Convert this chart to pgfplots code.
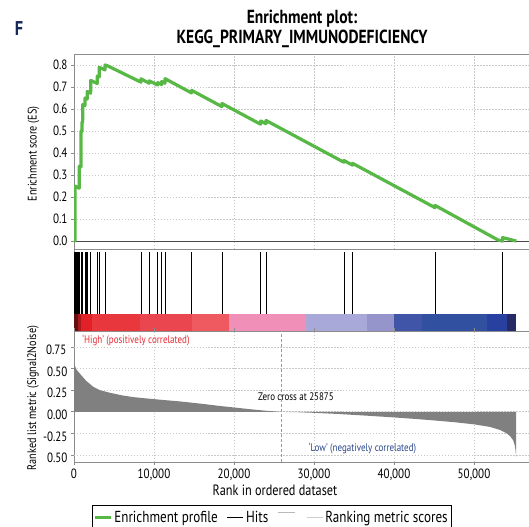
\documentclass[border=0pt]{standalone}
\usepackage{fontspec}
\setmainfont{PT Sans}[FakeStretch=0.82]
\usepackage{pgfplots}
\pgfplotsset{compat=1.18}
\definecolor{esgreen}{RGB}{88,184,70}
\definecolor{fnavy}{RGB}{20,40,90}
\definecolor{framegray}{RGB}{140,140,140}
\definecolor{gridgray}{RGB}{200,200,200}
\definecolor{metricgray}{RGB}{128,128,128}
\definecolor{hired}{RGB}{232,40,48}
\definecolor{lowblue}{RGB}{40,70,140}
\definecolor{cA}{RGB}{100,15,15}
\definecolor{cB}{RGB}{170,25,30}
\definecolor{cC}{RGB}{226,32,40}
\definecolor{cD}{RGB}{232,56,62}
\definecolor{cE}{RGB}{234,70,80}
\definecolor{cF}{RGB}{238,90,95}
\definecolor{cG}{RGB}{240,144,184}
\definecolor{cH}{RGB}{169,169,217}
\definecolor{cI}{RGB}{149,149,204}
\definecolor{cJ}{RGB}{64,85,168}
\definecolor{cK}{RGB}{50,80,160}
\definecolor{cL}{RGB}{40,64,160}
\definecolor{cM}{RGB}{38,42,102}
\pgfplotsset{
  panel/.style={
    scale only axis, width=455bp, xmin=0, xmax=56875,
    scaled x ticks=false, scaled y ticks=false,
    axis line style={framegray, line width=0.9pt},
    grid style={gridgray, dash pattern=on 1.5pt off 1.5pt, line width=0.6pt},
    tick style={framegray, line width=0.6pt},
    tick align=outside,
    ticklabel style={font=\fontsize{13.5}{14}\selectfont},
    /pgf/number format/assume math mode=true,
  }
}
\begin{document}
\begin{tikzpicture}
\useasboundingbox (0,0) rectangle (529bp,-527bp);
% titles
\node[font=\bfseries\fontsize{20}{22}\selectfont, text=fnavy] at (19bp,-29bp) {F};
\node[font=\bfseries\fontsize{19}{20}\selectfont] at (302bp,-19bp) {Enrichment plot:};
\node[font=\bfseries\fontsize{19}{20}\selectfont] at (302bp,-38.5bp) {KEGG\_PRIMARY\_IMMUNODEFICIENCY};
% top panel
\begin{axis}[panel, at={(74bp,-54bp)}, anchor=north west, height=195bp,
  ymin=-0.036, ymax=0.85,
  ytick={0,0.1,0.2,0.3,0.4,0.5,0.6,0.7,0.8},
  yticklabels={0.0,0.1,0.2,0.3,0.4,0.5,0.6,0.7,0.8},
  xtick={10000,20000,30000,40000,50000}, xticklabels={},
  x tick style={draw=none}, major tick length=3bp,
  xmajorgrids, ymajorgrids]
\addplot[gray!60!black, line width=1.1pt] coordinates {(0,0)(56875,0)};
\addplot[esgreen, line width=3.2bp, line join=round] coordinates {
(0,0)(120,0)(125,0.25)(650,0.24)(660,0.34)(865,0.337)(875,0.50)(990,0.498)(1000,0.54)(1080,0.538)(1090,0.62)(1365,0.615)(1375,0.65)(1650,0.645)(1660,0.68)(2080,0.672)(2090,0.73)(2900,0.716)(2910,0.75)(3150,0.745)(3160,0.79)(3870,0.777)(3880,0.80)(4100,0.798)
(8370,0.722)(8380,0.737)(9410,0.717)(9420,0.728)(10450,0.709)(10460,0.72)(10950,0.711)(10960,0.725)(11370,0.717)(11380,0.738)(14690,0.673)(14700,0.685)(18490,0.611)(18500,0.625)(23320,0.531)(23330,0.546)(23990,0.533)(24000,0.548)(33740,0.358)(33750,0.366)(34820,0.345)(34830,0.353)(45120,0.152)(45130,0.162)(53000,0.005)(53570,0.0)(53580,0.016)(55300,0.0)};
\end{axis}
% hits panel
\begin{axis}[panel, at={(74bp,-249bp)}, anchor=north west, height=82bp,
  ymin=0, ymax=82, xtick=\empty, ytick=\empty]
\addplot[ycomb, black, line width=0.9pt, mark=none] coordinates {
(40,79)(90,79)(125,79)(250,79)(420,79)(560,79)(660,79)(875,79)(1000,79)(1090,79)(1375,79)(1500,79)(1660,79)(2090,79)(2910,79)(3160,79)(3880,79)
(8375,79)(9420,79)(10460,79)(10960,79)(11375,79)(14700,79)(18500,79)(23330,79)(24000,79)(33750,79)(34830,79)(45125,79)(53580,79)};
\addplot[fill=cA, draw=none] coordinates {(0,0)(450,0)(450,17)(0,17)} -- cycle;
\addplot[fill=cB, draw=none] coordinates {(450,0)(900,0)(900,17)(450,17)} -- cycle;
\addplot[fill=cC, draw=none] coordinates {(900,0)(2200,0)(2200,17)(900,17)} -- cycle;
\addplot[fill=cD, draw=none] coordinates {(2200,0)(8250,0)(8250,17)(2200,17)} -- cycle;
\addplot[fill=cE, draw=none] coordinates {(8250,0)(14700,0)(14700,17)(8250,17)} -- cycle;
\addplot[fill=cF, draw=none] coordinates {(14700,0)(19400,0)(19400,17)(14700,17)} -- cycle;
\addplot[fill=cG, draw=none] coordinates {(19400,0)(29000,0)(29000,17)(19400,17)} -- cycle;
\addplot[fill=cH, draw=none] coordinates {(29000,0)(36600,0)(36600,17)(29000,17)} -- cycle;
\addplot[fill=cI, draw=none] coordinates {(36600,0)(40000,0)(40000,17)(36600,17)} -- cycle;
\addplot[fill=cJ, draw=none] coordinates {(40000,0)(43500,0)(43500,17)(40000,17)} -- cycle;
\addplot[fill=cK, draw=none] coordinates {(43500,0)(51600,0)(51600,17)(43500,17)} -- cycle;
\addplot[fill=cL, draw=none] coordinates {(51600,0)(54100,0)(54100,17)(51600,17)} -- cycle;
\addplot[fill=cM, draw=none] coordinates {(54100,0)(55250,0)(55250,17)(54100,17)} -- cycle;
\end{axis}
% bottom panel
\begin{axis}[panel, at={(74bp,-331bp)}, anchor=north west, height=131bp,
  ymin=-0.581, ymax=0.935,
  ytick={-0.25,0,0.25,0.5},
  yticklabel style={yshift=-3bp, /pgf/number format/fixed, /pgf/number format/fixed zerofill, /pgf/number format/precision=2},
  extra y ticks={-0.5,0.75}, extra y tick labels={0.50,{}},
  extra y tick style={grid=major},
  xtick={0,10000,20000,30000,40000,50000},
  xticklabels={0,{10,000},{20,000},{30,000},{40,000},{50,000}},
  major tick length=3bp,
  xmajorgrids, ymajorgrids,
  legend columns=-1,
  legend style={at={(0.0396,-0.328)}, anchor=north west, draw=black, line width=0.8pt,
    font=\fontsize{16}{18}\selectfont, inner xsep=1.5pt, inner ysep=4pt,
    /tikz/every even column/.append style={column sep=7bp}},
  legend image code/.code={\draw[#1] (0bp,0bp) -- (16bp,0bp);}]
\addlegendimage{esgreen, line width=2.5pt}
\addlegendentry{Enrichment profile\hspace{5bp}}
\addlegendimage{black, line width=1.2pt}
\addlegendentry{Hits\hspace{3bp}}
\addlegendimage{legend image code/.code={\draw[gray!55, line width=0.9pt] (0bp,5bp) -- (17bp,5bp); \draw[gray!40, line width=1.1pt] (29bp,0bp) -- (45bp,0bp);}}
\addlegendentry{Ranking metric scores\hspace{7bp}}
\addplot[fill=metricgray, draw=none, forget plot] coordinates {
(0,0)(0,0.57)(125,0.53)(300,0.49)(750,0.44)(1500,0.36)(2400,0.29)(3250,0.25)(4500,0.22)(6000,0.19)(7400,0.17)(9000,0.155)(10750,0.14)(13250,0.12)(15750,0.095)(18000,0.07)(20000,0.05)(22000,0.03)(24000,0.012)(25875,0)(28000,-0.005)(30000,-0.012)(33000,-0.025)(36600,-0.045)(40000,-0.065)(43000,-0.085)(45000,-0.10)(47500,-0.12)(50000,-0.145)(52000,-0.175)(53250,-0.21)(54000,-0.245)(54500,-0.28)(54900,-0.33)(55100,-0.39)(55200,-0.45)(55250,-0.52)(55250,0)} -- cycle;
\addplot[gray!80, dash pattern=on 3pt off 2pt, line width=0.8pt, forget plot] coordinates {(25875,-0.581)(25875,0.935)};
\node[anchor=west, text=hired, font=\fontsize{11}{12}\selectfont] at (axis cs:600,0.831) {‘High’ (positively correlated)};
\node[font=\fontsize{11}{12}\selectfont] at (axis cs:27750,0.175) {Zero cross at 25875};
\node[text=lowblue, font=\fontsize{11}{12}\selectfont] at (axis cs:36060,-0.419) {‘Low’ (negatively correlated)};
\end{axis}
% axis labels
\node[rotate=90, font=\fontsize{12.5}{13}\selectfont] at (33.5bp,-154bp) {Enrichment score (ES)};
\node[rotate=90, font=\fontsize{12.5}{13}\selectfont] at (33bp,-398bp) {Ranked list metric (Signal2Noise)};
\node[anchor=east, text=black, font=\fontsize{13.5}{14}\selectfont] at (70bp,-350bp) {0.75};
\node[font=\fontsize{15}{16}\selectfont] at (275bp,-490bp) {Rank in ordered dataset};
\end{tikzpicture}
\end{document}
